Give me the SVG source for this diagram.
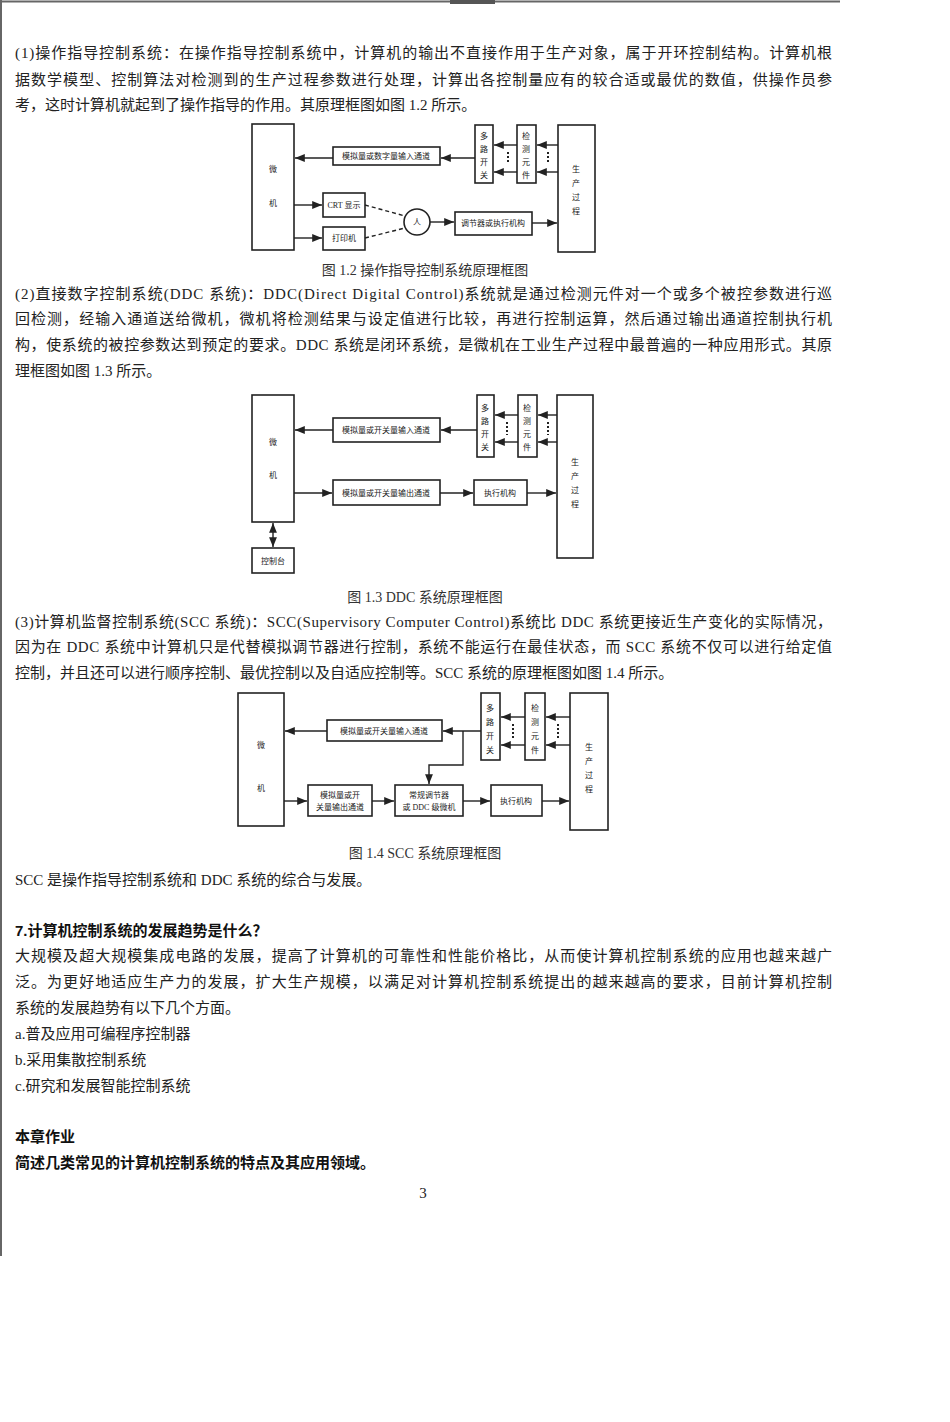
<svg xmlns="http://www.w3.org/2000/svg" width="950" height="1422" viewBox="0 0 950 1422">
<style>
.t{font-family:"Liberation Serif","Noto Sans CJK SC",serif;font-size:15px;fill:#222}
.b{font-family:"Liberation Sans","Noto Sans CJK SC",sans-serif;font-size:15px;font-weight:bold;fill:#111}
.c{font-family:"Liberation Serif","Noto Sans CJK SC",serif;font-size:14px;fill:#333;text-anchor:middle}
.l{font-family:"Liberation Serif","Noto Sans CJK SC",serif;font-size:8px;fill:#222;text-anchor:middle}
.box{fill:#fff;stroke:#222;stroke-width:1.6}
.ln{fill:none;stroke:#222;stroke-width:1.4}
.ds{fill:none;stroke:#222;stroke-width:1.4;stroke-dasharray:4 3}
.dot{fill:none;stroke:#222;stroke-width:2;stroke-dasharray:2 2}
</style>
<defs>
<marker id="a" viewBox="0 0 10 10" refX="10" refY="5" markerWidth="7" markerHeight="7" orient="auto-start-reverse"><path d="M0,1 L10,5 L0,9 z" fill="#222"/></marker>
</defs>
<rect width="950" height="1422" fill="#fff"/>
<line x1="0" y1="1.5" x2="840" y2="1.5" stroke="#666" stroke-width="2"/>
<rect x="450" y="0" width="45" height="4" fill="#555"/>
<line x1="1" y1="0" x2="1" y2="1256" stroke="#666" stroke-width="2"/>

<g id="para1">
<text class="t" x="15" y="58" textLength="817">(1)操作指导控制系统：在操作指导控制系统中，计算机的输出不直接作用于生产对象，属于开环控制结构。计算机根</text>
<text class="t" x="15" y="85" textLength="817">据数学模型、控制算法对检测到的生产过程参数进行处理，计算出各控制量应有的较合适或最优的数值，供操作员参</text>
<text class="t" x="15" y="110">考，这时计算机就起到了操作指导的作用。其原理框图如图 1.2 所示。</text>
</g>

<g id="fig12">
<rect class="box" x="252" y="124" width="42" height="126"/>
<text class="l" x="273" y="172">微</text><text class="l" x="273" y="206">机</text>
<rect class="box" x="333" y="147" width="107" height="18"/>
<text class="l" x="386" y="159">模拟量或数字量输入通道</text>
<rect class="box" x="475" y="125" width="18" height="58"/>
<text class="l" x="484" y="139">多</text><text class="l" x="484" y="152">路</text><text class="l" x="484" y="165">开</text><text class="l" x="484" y="178">关</text>
<rect class="box" x="517" y="125" width="19" height="58"/>
<text class="l" x="526" y="139">检</text><text class="l" x="526" y="152">测</text><text class="l" x="526" y="165">元</text><text class="l" x="526" y="178">件</text>
<rect class="box" x="558" y="125" width="37" height="127"/>
<text class="l" x="576" y="172">生</text><text class="l" x="576" y="186">产</text><text class="l" x="576" y="200">过</text><text class="l" x="576" y="214">程</text>
<rect class="box" x="323" y="193" width="42" height="24"/>
<text class="l" x="344" y="208">CRT 显示</text>
<rect class="box" x="323" y="227" width="42" height="23"/>
<text class="l" x="344" y="241">打印机</text>
<circle class="box" cx="417" cy="222" r="13"/>
<text class="l" x="417" y="225">人</text>
<rect class="box" x="455" y="212" width="77" height="23"/>
<text class="l" x="493" y="226">调节器或执行机构</text>
</g>

<g id="para2">
<text class="c" x="425" y="275">图 1.2 操作指导控制系统原理框图</text>
<text class="t" x="15" y="299" textLength="817">(2)直接数字控制系统(DDC 系统)：DDC(Direct Digital Control)系统就是通过检测元件对一个或多个被控参数进行巡</text>
<text class="t" x="15" y="324" textLength="817">回检测，经输入通道送给微机，微机将检测结果与设定值进行比较，再进行控制运算，然后通过输出通道控制执行机</text>
<text class="t" x="15" y="350" textLength="817">构，使系统的被控参数达到预定的要求。DDC 系统是闭环系统，是微机在工业生产过程中最普遍的一种应用形式。其原</text>
<text class="t" x="15" y="376">理框图如图 1.3 所示。</text>
</g>

<g id="fig13">
<rect class="box" x="252" y="395" width="42" height="127"/>
<text class="l" x="273" y="445">微</text><text class="l" x="273" y="478">机</text>
<rect class="box" x="252" y="548" width="42" height="25"/>
<text class="l" x="273" y="564">控制台</text>
<rect class="box" x="333" y="418" width="107" height="24"/>
<text class="l" x="386" y="433">模拟量或开关量输入通道</text>
<rect class="box" x="477" y="395" width="17" height="62"/>
<text class="l" x="485" y="411">多</text><text class="l" x="485" y="424">路</text><text class="l" x="485" y="437">开</text><text class="l" x="485" y="450">关</text>
<rect class="box" x="518" y="395" width="19" height="62"/>
<text class="l" x="527" y="411">检</text><text class="l" x="527" y="424">测</text><text class="l" x="527" y="437">元</text><text class="l" x="527" y="450">件</text>
<rect class="box" x="557" y="395" width="36" height="163"/>
<text class="l" x="575" y="465">生</text><text class="l" x="575" y="479">产</text><text class="l" x="575" y="493">过</text><text class="l" x="575" y="507">程</text>
<rect class="box" x="333" y="480" width="107" height="25"/>
<text class="l" x="386" y="496">模拟量或开关量输出通道</text>
<rect class="box" x="474" y="480" width="53" height="25"/>
<text class="l" x="500" y="496">执行机构</text>
</g>

<g id="para3">
<text class="c" x="425" y="602">图 1.3 DDC 系统原理框图</text>
<text class="t" x="15" y="627" textLength="817">(3)计算机监督控制系统(SCC 系统)：SCC(Supervisory Computer Control)系统比 DDC 系统更接近生产变化的实际情况，</text>
<text class="t" x="15" y="652" textLength="817">因为在 DDC 系统中计算机只是代替模拟调节器进行控制，系统不能运行在最佳状态，而 SCC 系统不仅可以进行给定值</text>
<text class="t" x="15" y="678">控制，并且还可以进行顺序控制、最优控制以及自适应控制等。SCC 系统的原理框图如图 1.4 所示。</text>
</g>

<g id="fig14">
<rect class="box" x="238" y="693" width="46" height="133"/>
<text class="l" x="261" y="748">微</text><text class="l" x="261" y="791">机</text>
<rect class="box" x="327" y="720" width="115" height="21"/>
<text class="l" x="384" y="734">模拟量或开关量输入通道</text>
<rect class="box" x="481" y="693" width="19" height="67"/>
<text class="l" x="490" y="711">多</text><text class="l" x="490" y="725">路</text><text class="l" x="490" y="739">开</text><text class="l" x="490" y="753">关</text>
<rect class="box" x="525" y="693" width="20" height="67"/>
<text class="l" x="535" y="711">检</text><text class="l" x="535" y="725">测</text><text class="l" x="535" y="739">元</text><text class="l" x="535" y="753">件</text>
<rect class="box" x="570" y="693" width="38" height="137"/>
<text class="l" x="589" y="750">生</text><text class="l" x="589" y="764">产</text><text class="l" x="589" y="778">过</text><text class="l" x="589" y="792">程</text>
<rect class="box" x="308" y="785" width="64" height="31"/>
<text class="l" x="340" y="798">模拟量或开</text><text class="l" x="340" y="810">关量输出通道</text>
<rect class="box" x="395" y="785" width="68" height="31"/>
<text class="l" x="429" y="798">常规调节器</text><text class="l" x="429" y="810">或 DDC 级微机</text>
<rect class="box" x="491" y="785" width="51" height="31"/>
<text class="l" x="516" y="804">执行机构</text>
</g>

<g id="connectors">
<line class="ln" x1="558" y1="145" x2="537" y2="145" marker-end="url(#a)"/>
<line class="ln" x1="558" y1="172" x2="537" y2="172" marker-end="url(#a)"/>
<line class="ln" x1="517" y1="145" x2="494" y2="145" marker-end="url(#a)"/>
<line class="ln" x1="517" y1="172" x2="494" y2="172" marker-end="url(#a)"/>
<line class="dot" x1="508" y1="152" x2="508" y2="164"/>
<line class="dot" x1="548" y1="152" x2="548" y2="164"/>
<line class="ln" x1="475" y1="158" x2="441" y2="158" marker-end="url(#a)"/>
<line class="ln" x1="333" y1="158" x2="295" y2="158" marker-end="url(#a)"/>
<line class="ln" x1="294" y1="205" x2="322" y2="205" marker-end="url(#a)"/>
<line class="ln" x1="294" y1="238" x2="322" y2="238" marker-end="url(#a)"/>
<line class="ds" x1="365" y1="205" x2="405" y2="216"/>
<line class="ds" x1="365" y1="238" x2="405" y2="228"/>
<line class="ln" x1="430" y1="222" x2="454" y2="222" marker-end="url(#a)"/>
<line class="ln" x1="532" y1="223" x2="557" y2="223" marker-end="url(#a)"/>

<line class="ln" x1="557" y1="415" x2="538" y2="415" marker-end="url(#a)"/>
<line class="ln" x1="557" y1="442" x2="538" y2="442" marker-end="url(#a)"/>
<line class="ln" x1="518" y1="415" x2="495" y2="415" marker-end="url(#a)"/>
<line class="ln" x1="518" y1="442" x2="495" y2="442" marker-end="url(#a)"/>
<line class="dot" x1="507" y1="422" x2="507" y2="435"/>
<line class="dot" x1="548" y1="422" x2="548" y2="435"/>
<line class="ln" x1="477" y1="430" x2="441" y2="430" marker-end="url(#a)"/>
<line class="ln" x1="333" y1="430" x2="295" y2="430" marker-end="url(#a)"/>
<line class="ln" x1="294" y1="493" x2="332" y2="493" marker-end="url(#a)"/>
<line class="ln" x1="440" y1="493" x2="473" y2="493" marker-end="url(#a)"/>
<line class="ln" x1="527" y1="493" x2="556" y2="493" marker-end="url(#a)"/>
<line class="ln" x1="273" y1="523" x2="273" y2="547" marker-start="url(#a)" marker-end="url(#a)"/>

<line class="ln" x1="570" y1="717" x2="546" y2="717" marker-end="url(#a)"/>
<line class="ln" x1="570" y1="745" x2="546" y2="745" marker-end="url(#a)"/>
<line class="ln" x1="525" y1="717" x2="501" y2="717" marker-end="url(#a)"/>
<line class="ln" x1="525" y1="745" x2="501" y2="745" marker-end="url(#a)"/>
<line class="dot" x1="513" y1="724" x2="513" y2="738"/>
<line class="dot" x1="558" y1="724" x2="558" y2="738"/>
<line class="ln" x1="481" y1="731" x2="443" y2="731" marker-end="url(#a)"/>
<line class="ln" x1="327" y1="731" x2="285" y2="731" marker-end="url(#a)"/>
<polyline class="ln" points="463,731 463,765 429,765 429,784" marker-end="url(#a)"/>
<line class="ln" x1="284" y1="801" x2="307" y2="801" marker-end="url(#a)"/>
<line class="ln" x1="372" y1="801" x2="394" y2="801" marker-end="url(#a)"/>
<line class="ln" x1="463" y1="801" x2="490" y2="801" marker-end="url(#a)"/>
<line class="ln" x1="542" y1="801" x2="569" y2="801" marker-end="url(#a)"/>
</g>

<g id="rest">
<text class="c" x="425" y="858">图 1.4 SCC 系统原理框图</text>
<text class="t" x="15" y="885">SCC 是操作指导控制系统和 DDC 系统的综合与发展。</text>
<text class="b" x="15" y="936">7.计算机控制系统的发展趋势是什么？</text>
<text class="t" x="15" y="961" textLength="817">大规模及超大规模集成电路的发展，提高了计算机的可靠性和性能价格比，从而使计算机控制系统的应用也越来越广</text>
<text class="t" x="15" y="987" textLength="817">泛。为更好地适应生产力的发展，扩大生产规模，以满足对计算机控制系统提出的越来越高的要求，目前计算机控制</text>
<text class="t" x="15" y="1013">系统的发展趋势有以下几个方面。</text>
<text class="t" x="15" y="1039">a.普及应用可编程序控制器</text>
<text class="t" x="15" y="1065">b.采用集散控制系统</text>
<text class="t" x="15" y="1091">c.研究和发展智能控制系统</text>
<text class="b" x="15" y="1142">本章作业</text>
<text class="b" x="15" y="1168">简述几类常见的计算机控制系统的特点及其应用领域。</text>
<text class="t" x="423" y="1198" text-anchor="middle" font-size="12">3</text>
</g>
</svg>
